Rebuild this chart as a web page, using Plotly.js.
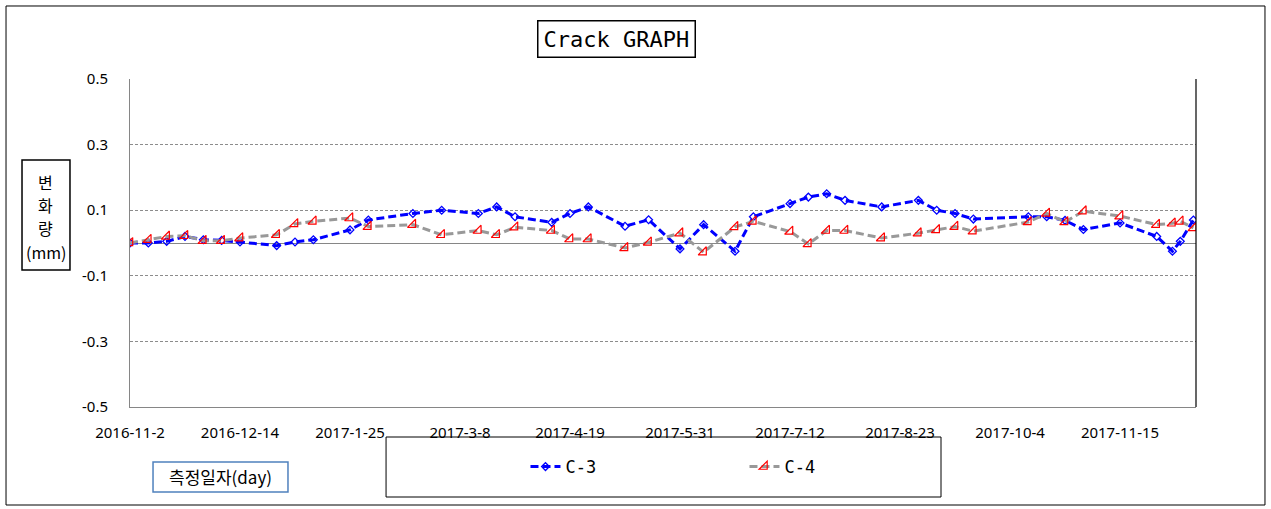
<!DOCTYPE html>
<html>
<head>
<meta charset="utf-8">
<script src="https://cdn.plot.ly/plotly-3.0.1.min.js"></script>
<style>html,body{margin:0;padding:0;background:#fff;}#chart{width:1271px;height:509px;}</style>
</head>
<body>
<div id="chart"></div>
<script>
const dates = [
  '2016-11-02','2016-11-09','2016-11-16','2016-11-23','2016-11-30','2016-12-07','2016-12-14','2016-12-28',
  '2017-01-04','2017-01-11','2017-01-25','2017-02-01','2017-02-18','2017-03-01','2017-03-15','2017-03-22',
  '2017-03-29','2017-04-12','2017-04-19','2017-04-26','2017-05-10','2017-05-19','2017-05-31','2017-06-09',
  '2017-06-21','2017-06-28','2017-07-12','2017-07-19','2017-07-26','2017-08-02','2017-08-16','2017-08-30',
  '2017-09-06','2017-09-13','2017-09-20','2017-10-11','2017-10-18','2017-10-25','2017-11-01','2017-11-15',
  '2017-11-29','2017-12-05','2017-12-08','2017-12-13'
];
const c3 = [
  0.000, 0.000, 0.005, 0.020, 0.010, 0.008, 0.003, -0.008,
  0.003, 0.010, 0.040, 0.070, 0.090, 0.100, 0.090, 0.110,
  0.080, 0.063, 0.090, 0.110, 0.051, 0.071, -0.018, 0.056,
  -0.025, 0.080, 0.120, 0.140, 0.150, 0.130, 0.110, 0.130,
  0.100, 0.090, 0.073, 0.080, 0.080, 0.069, 0.041, 0.061,
  0.020, -0.025, 0.005, 0.070
];
const c4 = [
  0.000, 0.010, 0.020, 0.022, 0.007, 0.007, 0.015, 0.025,
  0.058, 0.066, 0.076, 0.050, 0.056, 0.025, 0.038, 0.025,
  0.048, 0.038, 0.012, 0.012, -0.015, 0.002, 0.030, -0.028,
  0.049, 0.066, 0.035, -0.003, 0.038, 0.038, 0.015, 0.030,
  0.040, 0.050, 0.036, 0.064, 0.090, 0.064, 0.097, 0.082,
  0.056, 0.060, 0.066, 0.046
];
const xTickVals = ['2016-11-02','2016-12-14','2017-01-25','2017-03-08','2017-04-19','2017-05-31','2017-07-12','2017-08-23','2017-10-04','2017-11-15'];
const xTickText = ['2016-11-2','2016-12-14','2017-1-25','2017-3-8','2017-4-19','2017-5-31','2017-7-12','2017-8-23','2017-10-4','2017-11-15'];
const yTickVals = [0.5, 0.3, 0.1, -0.1, -0.3, -0.5];
const yTickText = ['0.5','0.3','0.1','-0.1','-0.3','-0.5'];
const xRange = ['2016-11-02', '2017-12-14'];
const yLabelLines = ['변', '화', '량', '(mm)'];
const yLabelPos = [0.686, 0.616, 0.546, 0.474];

const traces = [
  {x: dates, y: c3, name: 'C-3', type: 'scatter', mode: 'lines+markers',
   line: {color: '#0000FF', width: 3, dash: '8px,4px'},
   marker: {symbol: 'diamond-open', size: 6, color: '#0000FF', line: {width: 1.3, color: '#0000FF'}}},
  {x: dates, y: c4, name: 'C-4', type: 'scatter', mode: 'lines+markers',
   line: {color: '#999999', width: 3, dash: '8px,4px'},
   marker: {symbol: 'triangle-se-open', size: 9, color: '#FF0000', line: {width: 1.2, color: '#FF0000'}}}
];

const annotations = [
  {text: 'Crack GRAPH', xref: 'paper', yref: 'paper', x: 0.4568, y: 1.122, xanchor: 'center', yanchor: 'middle',
   showarrow: false, font: {family: 'DejaVu Sans Mono, monospace', size: 22, color: '#000'},
   bordercolor: '#000', borderwidth: 1.5, borderpad: 5, bgcolor: '#fff'},
  {text: '측정일자(day)', xref: 'paper', yref: 'paper', x: 0.0849, y: -0.2134, xanchor: 'center', yanchor: 'middle',
   showarrow: false, font: {family: 'Noto Sans CJK KR, sans-serif', size: 17, color: '#000'}}
];
yLabelLines.forEach(function(t, i) {
  annotations.push({text: t, xref: 'paper', yref: 'paper', x: -0.0788, y: yLabelPos[i], xanchor: 'center', yanchor: 'middle',
    showarrow: false, font: {family: 'Noto Sans CJK KR, sans-serif', size: 16, color: '#000'}});
});

const layout = {
  width: 1271, height: 509,
  margin: {l: 130, r: 75, t: 79, b: 102},
  paper_bgcolor: '#ffffff', plot_bgcolor: '#ffffff',
  font: {family: 'Noto Sans, Open Sans, sans-serif', color: '#000', size: 15},
  showlegend: true,
  legend: {orientation: 'h', x: 0.371, y: -0.183, xanchor: 'left', yanchor: 'middle',
           bgcolor: 'rgba(0,0,0,0)', borderwidth: 0, entrywidth: 174, entrywidthmode: 'pixels',
           font: {family: 'DejaVu Sans Mono, monospace', size: 17, color: '#000'}},
  xaxis: {type: 'date', range: xRange, tickvals: xTickVals, ticktext: xTickText,
          showgrid: false, zeroline: false, showline: true, linecolor: '#868686', linewidth: 1,
          ticks: 'outside', ticklen: 12, tickcolor: 'rgba(0,0,0,0)',
          tickfont: {family: 'Noto Sans, sans-serif', size: 15, color: '#000'}, fixedrange: true},
  yaxis: {range: [-0.5, 0.5], tickvals: yTickVals, ticktext: yTickText,
          showgrid: true, gridcolor: '#8c8c8c', gridwidth: 1, griddash: '3px,2px',
          zeroline: true, zerolinecolor: '#868686', zerolinewidth: 1,
          showline: true, linecolor: '#868686', linewidth: 1,
          ticks: 'outside', ticklen: 18, tickcolor: 'rgba(0,0,0,0)',
          tickfont: {family: 'Noto Sans, sans-serif', size: 15, color: '#000'}, fixedrange: true},
  shapes: [
    {type: 'rect', xref: 'paper', yref: 'paper', x0: -0.1163, x1: 1.0647, y0: -0.2988, y1: 1.2226,
     line: {color: '#000', width: 1}, fillcolor: 'rgba(0,0,0,0)', layer: 'below'},
    {type: 'line', xref: 'paper', yref: 'paper', x0: 1, x1: 1, y0: 0, y1: 1,
     line: {color: '#000', width: 1.2}},
    {type: 'rect', xref: 'paper', yref: 'paper', x0: 0.2402, x1: 0.7608, y0: -0.2744, y1: -0.0915,
     line: {color: '#000', width: 1}, fillcolor: 'rgba(0,0,0,0)'},
    {type: 'rect', xref: 'paper', yref: 'paper', x0: -0.1013, x1: -0.0563, y0: 0.4177, y1: 0.753,
     line: {color: '#000', width: 1.5}, fillcolor: 'rgba(0,0,0,0)'},
    {type: 'rect', xref: 'paper', yref: 'paper', x0: 0.0216, x1: 0.1482, y0: -0.2591, y1: -0.1677,
     line: {color: '#4f81bd', width: 1.5}, fillcolor: 'rgba(0,0,0,0)'}
  ],
  annotations: annotations
};

Plotly.newPlot('chart', traces, layout, {displayModeBar: false, staticPlot: true});
</script>
</body>
</html>
